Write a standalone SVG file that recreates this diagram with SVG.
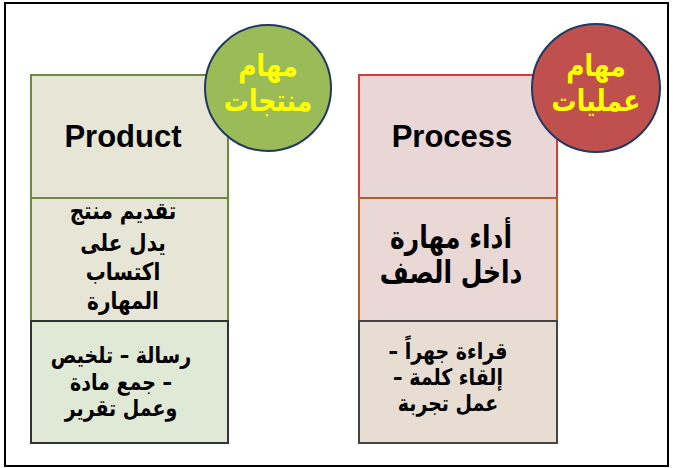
<svg xmlns="http://www.w3.org/2000/svg" width="673" height="468" viewBox="0 0 673 468">
<style>
.en{font-family:"Liberation Sans",Arial,sans-serif;font-weight:bold;font-size:31px;fill:#000;text-anchor:middle}
.ar{font-family:"DejaVu Sans","Noto Sans",sans-serif;font-weight:bold;fill:#000;text-anchor:middle;direction:rtl;unicode-bidi:embed}
.mid{font-size:20px}
.big{font-size:25px}
.sm{font-size:19px}
.cir{font-size:25px;fill:#ffff00}
.circle{stroke:#1f3864;stroke-width:2}
</style>
<rect x="5" y="3" width="663" height="463" fill="#ffffff" stroke="#000" stroke-width="2"/>
<g id="product-top">
<rect x="31" y="75" width="197" height="123" fill="#e7e6d6" stroke="#6b8a3a" stroke-width="2"/>
<text class="en" x="123" y="147">Product</text>
</g>
<g id="product-mid">
<rect x="31" y="198" width="197" height="123" fill="#e7e6d6" stroke="#6b8a3a" stroke-width="2"/>
<text class="ar mid" direction="rtl" transform="translate(123 219) scale(1 1.2)">تقديم منتج</text>
<text class="ar mid" direction="rtl" transform="translate(123 251) scale(1 1.2)">يدل على</text>
<text class="ar mid" direction="rtl" transform="translate(123 280) scale(1 1.2)">اكتساب</text>
<text class="ar mid" direction="rtl" transform="translate(123 309) scale(1 1.2)">المهارة</text>
</g>
<g id="product-bottom">
<rect x="31" y="321" width="197" height="122" fill="#e0e8d6" stroke="#333" stroke-width="2"/>
<text class="ar sm" direction="rtl" transform="translate(121 363) scale(1 1.2)">رسالة – تلخيص</text>
<text class="ar sm" direction="rtl" transform="translate(121 390) scale(1 1.2)">– جمع مادة</text>
<text class="ar sm" direction="rtl" transform="translate(121 416) scale(1 1.2)">وعمل تقرير</text>
</g>
<g id="process-top">
<rect x="359" y="75" width="198" height="123" fill="#e9d6d6" stroke="#d93a3a" stroke-width="2"/>
<text class="en" x="452" y="147">Process</text>
</g>
<g id="process-mid">
<rect x="359" y="198" width="198" height="123" fill="#e9d8d6" stroke="#b3601e" stroke-width="2"/>
<text class="ar big" direction="rtl" transform="translate(451 248) scale(1 1.25)">أداء مهارة</text>
<text class="ar big" direction="rtl" transform="translate(451 283) scale(1 1.25)">داخل الصف</text>
</g>
<g id="process-bottom">
<rect x="359" y="321" width="198" height="122" fill="#e7ddd3" stroke="#444" stroke-width="2"/>
<text class="ar sm" direction="rtl" transform="translate(448 359) scale(1 1.2)">قراءة جهراً –</text>
<text class="ar sm" direction="rtl" transform="translate(448 385) scale(1 1.2)">إلقاء كلمة –</text>
<text class="ar sm" direction="rtl" transform="translate(448 411) scale(1 1.2)">عمل تجربة</text>
</g>
<g id="products-circle">
<circle class="circle" cx="268" cy="88" r="63" fill="#9bbb59"/>
<text class="ar cir" direction="rtl" transform="translate(268 76) scale(1 1.2)">مهام</text>
<text class="ar cir" direction="rtl" transform="translate(268 111) scale(1 1.2)">منتجات</text>
</g>
<g id="processes-circle">
<circle class="circle" cx="596" cy="88" r="64" fill="#c0504d"/>
<text class="ar cir" direction="rtl" transform="translate(596 76) scale(1 1.2)">مهام</text>
<text class="ar cir" direction="rtl" transform="translate(596 111) scale(1 1.2)">عمليات</text>
</g>
<g id="connectors"></g>
</svg>
